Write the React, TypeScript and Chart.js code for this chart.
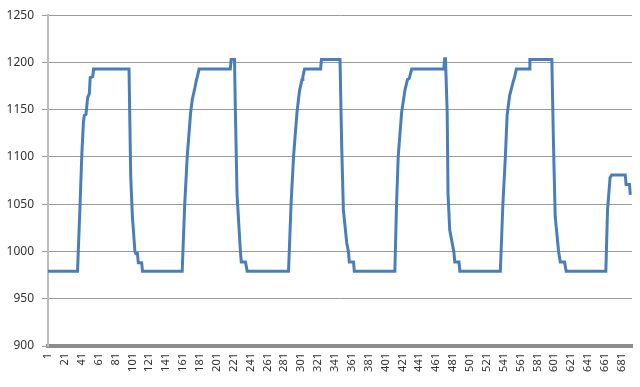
import React, { useEffect, useRef } from "react";
import { Chart, registerables } from "chart.js";

Chart.register(...registerables);

// Breakpoints of the series (sample index, value)
const sampleIndex = [
  1, 36, 39, 41, 43, 44, 46, 48, 50, 51, 54, 55, 97, 99, 101, 104, 105, 107, 108, 112, 113,
  160, 163, 166, 170, 172, 175, 177, 178, 180, 217, 218, 222, 223, 225, 227, 229, 230, 235, 237,
  286, 289, 292, 296, 299, 302, 303, 305, 324, 325, 347, 349, 351, 355, 357, 358, 363, 364,
  412, 414, 416, 420, 424, 427, 429, 432, 470, 471, 472, 474, 475, 477, 482, 483, 488, 489,
  537, 540, 543, 545, 548, 552, 554, 556, 571, 572, 598, 600, 602, 606, 608, 613, 615,
  662, 664, 667, 669, 685, 686, 690, 691,
];
const sampleValue = [
  979, 979, 1050, 1101, 1137, 1144, 1145, 1163, 1167, 1184, 1185, 1193, 1193, 1080, 1037, 1000, 998, 998, 988, 988, 979,
  979, 1050, 1101, 1147, 1161, 1173, 1182, 1185, 1193, 1193, 1203, 1203, 1150, 1060, 1030, 1000, 989, 989, 979,
  979, 1050, 1101, 1147, 1170, 1182, 1185, 1193, 1193, 1203, 1203, 1112, 1044, 1009, 1000, 989, 989, 979,
  979, 1050, 1101, 1147, 1171, 1182, 1183, 1193, 1193, 1204, 1204, 1147, 1061, 1023, 999, 989, 989, 979,
  979, 1050, 1101, 1144, 1165, 1179, 1185, 1193, 1193, 1203, 1203, 1112, 1037, 1000, 989, 989, 979,
  979, 1044, 1078, 1081, 1081, 1071, 1071, 1060,
];

const xTickLabels = [
  1, 21, 41, 61, 81, 101, 121, 141, 161, 181, 201, 221, 241, 261, 281, 301, 321, 341,
  361, 381, 401, 421, 441, 461, 481, 501, 521, 541, 561, 581, 601, 621, 641, 661, 681,
];
const xMin = 1;
const xMax = 693;
const yMin = 900;
const yMax = 1250;
const yStep = 50;

export default function App() {
  const canvasRef = useRef<HTMLCanvasElement | null>(null);

  useEffect(() => {
    document.body.style.margin = "0";
    const canvas = canvasRef.current;
    if (!canvas) return;
    const points = sampleIndex.map((x, i) => ({ x, y: sampleValue[i] }));
    const chart = new Chart(canvas, {
      type: "line",
      data: {
        datasets: [
          {
            data: points,
            borderColor: "#4a7ebb",
            borderWidth: 3,
            pointRadius: 0,
            tension: 0,
            fill: false,
            borderJoinStyle: "miter",
          },
        ],
      },
      options: {
        responsive: false,
        animation: false,
        layout: { padding: { top: 8, right: 8, left: 0, bottom: 0 } },
        plugins: { legend: { display: false }, tooltip: { enabled: false } },
        scales: {
          x: {
            type: "linear",
            min: xMin,
            max: xMax,
            afterBuildTicks: (scale: any) => {
              scale.ticks = xTickLabels.map((v) => ({ value: v }));
            },
            afterFit: (scale: any) => {
              scale.height = 41;
            },
            ticks: {
              autoSkip: false,
              minRotation: 90,
              maxRotation: 90,
              padding: 3,
              color: "#333333",
              font: { family: "Noto Sans", size: 11 },
              callback: (v: any) => String(v),
            },
            grid: {
              drawOnChartArea: false,
              drawTicks: true,
              tickLength: 4,
              color: "rgba(0,0,0,0)",
            },
            border: { display: true, color: "#8c8c8c", width: 4 },
          },
          y: {
            min: yMin,
            max: yMax,
            afterFit: (scale: any) => {
              scale.width = 48;
            },
            ticks: {
              stepSize: yStep,
              padding: 8,
              color: "#333333",
              font: { family: "Noto Sans", size: 12 },
              callback: (v: any) => String(v),
            },
            grid: {
              color: "#9a9a9a",
              lineWidth: 1,
              tickLength: 6,
            },
            border: { display: true, color: "#bcbcbc", width: 2 },
          },
        },
      },
    });
    return () => chart.destroy();
  }, []);

  return (
    <div style={{ width: 640, height: 387 }}>
      <canvas ref={canvasRef} width={640} height={387} />
    </div>
  );
}
